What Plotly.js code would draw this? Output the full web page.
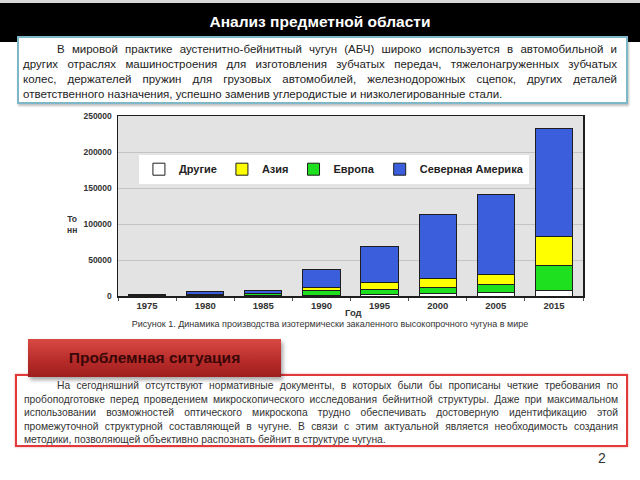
<!DOCTYPE html>
<html>
<head>
<meta charset="utf-8">
<script src="https://cdn.plot.ly/plotly-3.0.1.min.js"></script>
<style>
  html, body { margin:0; padding:0; }
  body { width:640px; height:480px; overflow:hidden; background:#fff; position:relative;
         font-family:"Liberation Sans", Arial, sans-serif; }
  .abs { position:absolute; }
  #chart { left:0; top:0; width:640px; height:480px; }
  #topband { left:0; top:0; width:640px; height:3px; background:#d8d8d8; }
  #titlebar { left:0; top:3px; width:640px; height:39px; background:#000; }
  #title { left:0; top:13px; width:640px; text-align:center; color:#fff; font-weight:bold; font-size:15.5px; line-height:18px; }
  #box1 { left:17px; top:36px; width:611px; height:68px; box-sizing:border-box; border:2px solid #7db7c8;
          background:#fff; box-shadow:1px 2px 2px rgba(0,0,0,0.25); padding:4px 9px 0 4px;
          font-size:11.5px; line-height:15px; color:#222; }
  #box2 { left:15px; top:374px; width:613px; height:73px; box-sizing:border-box; border:2px solid #e23a3a;
          background:#fff; padding:3px 8px 0 7px; font-size:10.3px; line-height:13.5px; color:#333;
          box-shadow:0 0 2px rgba(220,60,60,0.5); }
  .j { text-align:justify; text-align-last:justify; }
  .last { text-align:left; }
  .ind1 { text-indent:34px; }
  .ind2 { text-indent:33px; }
  #btn { left:28px; top:339px; width:253px; height:38px;
         background:linear-gradient(#d84a44, #b52a28 60%, #9e1f1f);
         box-shadow:2px 3px 4px rgba(0,0,0,0.35); color:#3a0707; font-weight:bold; font-size:15.5px;
         text-align:center; line-height:38px; z-index:3; }
  #caption { left:0; top:318px; width:660px; text-align:center; font-size:9px; color:#333; line-height:12px; }
  #pagenum { left:598px; top:450px; font-size:14px; color:#333; }
</style>
</head>
<body>
<div id="topband" class="abs"></div>
<div id="titlebar" class="abs"></div>
<div id="title" class="abs">Анализ предметной области</div>
<div id="box1" class="abs">
  <div class="j ind1">В мировой практике аустенитно-бейнитный чугун (АБЧ) широко используется в автомобильной и</div>
  <div class="j">других отраслях машиностроения для изготовления зубчатых передач, тяжелонагруженных зубчатых</div>
  <div class="j">колес, держателей пружин для грузовых автомобилей, железнодорожных сцепок, других деталей</div>
  <div class="last">ответственного назначения, успешно заменив углеродистые и низколегированные стали.</div>
</div>
<div id="chart" class="abs"></div>
<div id="caption" class="abs">Рисунок 1. Динамика производства изотермически закаленного высокопрочного чугуна в мире</div>
<div id="box2" class="abs">
  <div class="j ind2">На сегодняшний отсутствуют нормативные документы, в которых были бы прописаны четкие требования по</div>
  <div class="j">пробоподготовке перед проведением микроскопического исследования бейнитной структуры. Даже при максимальном</div>
  <div class="j">использовании возможностей оптического микроскопа трудно обеспечивать достоверную идентификацию этой</div>
  <div class="j">промежуточной структурной составляющей в чугуне. В связи с этим актуальной является необходимость создания</div>
  <div class="last">методики, позволяющей объективно распознать бейнит в структуре чугуна.</div>
</div>
<div id="btn" class="abs">Проблемная ситуация</div>
<div id="pagenum" class="abs">2</div>

<script>
// ---- data (tonnes) ----
const years = ['1975', '1980', '1985', '1990', '1995', '2000', '2005', '2015'];
const other = [300, 500, 500, 1000, 2000, 4000, 5500, 7000];
const europe = [700, 1000, 2500, 6000, 7000, 7600, 10500, 35000];
const asia = [200, 300, 500, 5000, 10000, 13400, 14300, 41000];
const northAmerica = [1300, 4000, 4300, 25500, 50000, 88500, 110000, 149000];
const yTicks = [0, 50000, 100000, 150000, 200000, 250000];

const seriesNames = ['Другие', 'Европа', 'Азия', 'Северная Америка'];
const seriesVals = [other, europe, asia, northAmerica];
const seriesColors = ['#ffffff', '#1fe01f', '#ffff00', '#3b5fdc'];
const legendRanks = [1, 3, 2, 4];

const traces = seriesNames.map((n, i) => ({
  type: 'bar',
  name: n,
  x: years,
  y: seriesVals[i],
  marker: { color: seriesColors[i], line: { color: '#1e1e1e', width: 1 } },
  legendrank: legendRanks[i],
  hoverinfo: 'skip'
}));

const plotL = 118, plotR = 583, plotT = 116, plotB = 296.5;

const layout = {
  width: 640, height: 480,
  margin: { l: plotL, r: 640 - plotR, t: plotT, b: 480 - plotB, pad: 0 },
  paper_bgcolor: 'rgba(0,0,0,0)',
  plot_bgcolor: '#e3e3e3',
  barmode: 'stack',
  bargap: 0.36,
  font: { family: '"Liberation Sans", Arial, sans-serif', color: '#333' },
  showlegend: true,
  legend: {
    orientation: 'h', x: 0.045, xanchor: 'left', y: 0.785, yanchor: 'top',
    bgcolor: '#ffffff', borderwidth: 0,
    font: { size: 11, color: '#222', weight: 'bold' },
    traceorder: 'normal', itemwidth: 30
  },
  xaxis: {
    type: 'category',
    showline: true, linecolor: '#1e1e1e', linewidth: 1.5, mirror: true,
    ticks: 'outside', ticklen: 3, tickcolor: '#555', tickson: 'boundaries',
    tickfont: { size: 9.5, color: '#333', weight: 'bold' },
    showgrid: false, fixedrange: true
  },
  yaxis: {
    range: [0, 250000],
    tickvals: yTicks,
    ticktext: yTicks.map(v => String(v)),
    showline: true, linecolor: '#1e1e1e', linewidth: 1.5, mirror: true,
    ticks: '', ticklabelstandoff: 3,
    tickfont: { size: 8.5, color: '#333', weight: 'bold' },
    showgrid: true, gridcolor: '#c4c4c4', gridwidth: 1,
    zeroline: false, fixedrange: true
  },
  annotations: [
    { text: 'То<br>нн', xref: 'paper', yref: 'paper', x: (72 - plotL) / (plotR - plotL), y: (plotB - 224.5) / (plotB - plotT),
      xanchor: 'center', yanchor: 'middle', showarrow: false, align: 'center',
      font: { size: 8.5, color: '#333', weight: 'bold' } },
    { text: 'Год', xref: 'paper', yref: 'paper', x: (353 - plotL) / (plotR - plotL), y: (plotB - 313) / (plotB - plotT),
      xanchor: 'center', yanchor: 'middle', showarrow: false,
      font: { size: 9.5, color: '#333', weight: 'bold' } }
  ]
};

Plotly.newPlot('chart', traces, layout, { displayModeBar: false, staticPlot: true });
</script>
</body>
</html>
